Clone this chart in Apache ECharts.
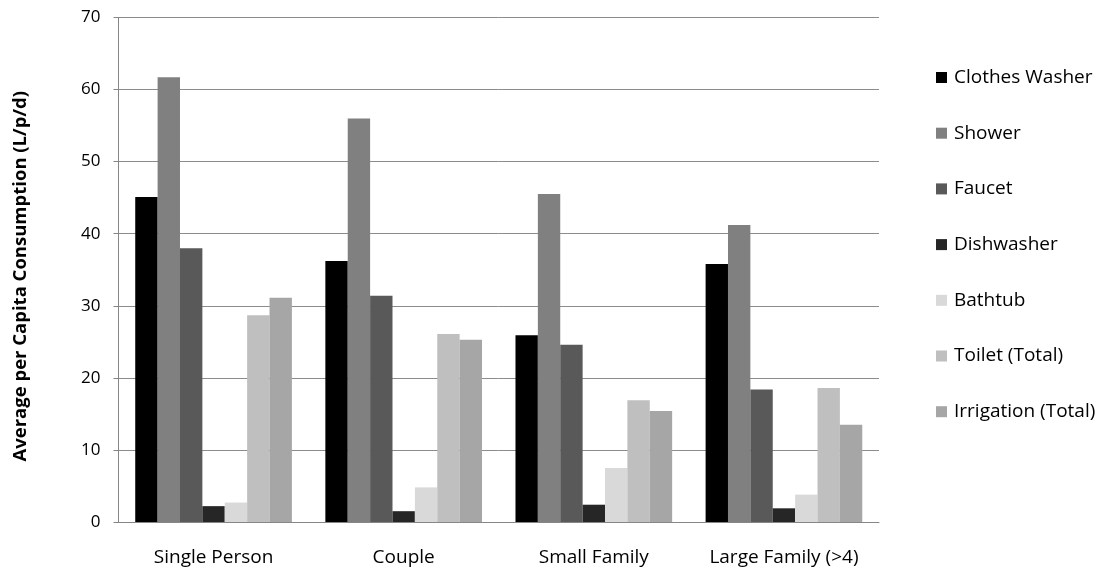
<!DOCTYPE html>
<html>
<head>
<meta charset="utf-8">
<script src="https://cdn.jsdelivr.net/npm/echarts@6/dist/echarts.min.js"></script>
<style>
  html, body { margin: 0; padding: 0; background: #fff; }
  #chart { width: 1102px; height: 576px; }
</style>
</head>
<body>
<div id="chart"></div>
<script>
// Household groups along the category axis
const categories = ['Single Person', 'Couple', 'Small Family', 'Large Family (>4)'];

// Average per capita end-use consumption (L/p/d) for each household group
const clothesWasher = [45.1, 36.2, 25.9, 35.8];
const shower        = [61.7, 56.0, 45.5, 41.2];
const faucet        = [38.0, 31.4, 24.6, 18.4];
const dishwasher    = [2.2, 1.5, 2.4, 1.9];
const bathtub       = [2.7, 4.8, 7.5, 3.8];
const toiletTotal   = [28.7, 26.1, 16.9, 18.6];
const irrigation    = [31.1, 25.3, 15.4, 13.5];

const yTicks = [0, 10, 20, 30, 40, 50, 60, 70];

const seriesDefs = [
  { name: 'Clothes Washer',     data: clothesWasher, color: '#000000' },
  { name: 'Shower',             data: shower,        color: '#808080' },
  { name: 'Faucet',             data: faucet,        color: '#595959' },
  { name: 'Dishwasher',         data: dishwasher,    color: '#262626' },
  { name: 'Bathtub',            data: bathtub,       color: '#d9d9d9' },
  { name: 'Toilet (Total)',     data: toiletTotal,   color: '#bfbfbf' },
  { name: 'Irrigation (Total)', data: irrigation,    color: '#a6a6a6' }
];

const FONT = 'Open Sans';

const chart = echarts.init(document.getElementById('chart'), null, { renderer: 'canvas' });

chart.setOption({
  animation: false,
  backgroundColor: '#ffffff',
  textStyle: { fontFamily: FONT, color: '#000' },
  grid: { left: 118.5, right: 223, top: 17.5, bottom: 54, containLabel: false },
  legend: {
    orient: 'vertical',
    left: 931,
    top: 63,
    icon: 'rect',
    itemWidth: 11,
    itemHeight: 11,
    itemGap: 36.7,
    selectedMode: false,
    textStyle: { fontFamily: FONT, fontSize: 19, color: '#000', padding: [0, 0, 0, 2] },
    data: seriesDefs.map(s => s.name)
  },
  xAxis: {
    type: 'category',
    data: categories,
    axisLine: { show: true, lineStyle: { color: '#868686', width: 1 } },
    axisTick: { show: false },
    axisLabel: { interval: 0, fontFamily: FONT, fontSize: 19, color: '#000', margin: 26 },
    splitLine: { show: false }
  },
  yAxis: {
    type: 'value',
    min: yTicks[0],
    max: yTicks[yTicks.length - 1],
    interval: 10,
    name: 'Average per Capita Consumption (L/p/d)',
    nameLocation: 'middle',
    nameGap: 88,
    nameTextStyle: {
      fontFamily: FONT, fontSize: 18.5, fontWeight: 'bold', color: '#000',
      padding: [0, 13, 0, 0]
    },
    axisLine: { show: true, lineStyle: { color: '#868686', width: 1 } },
    axisTick: { show: true, inside: false, length: 5, lineStyle: { color: '#868686' } },
    axisLabel: { fontFamily: FONT, fontSize: 17, color: '#000', margin: 18 },
    splitLine: { show: true, lineStyle: { color: '#8c8c8c', width: 1 } }
  },
  series: seriesDefs.map(s => ({
    name: s.name,
    type: 'bar',
    data: s.data,
    barGap: '0%',
    barCategoryGap: '17.6%',
    itemStyle: { color: s.color },
    emphasis: { disabled: true }
  }))
});
</script>
</body>
</html>
